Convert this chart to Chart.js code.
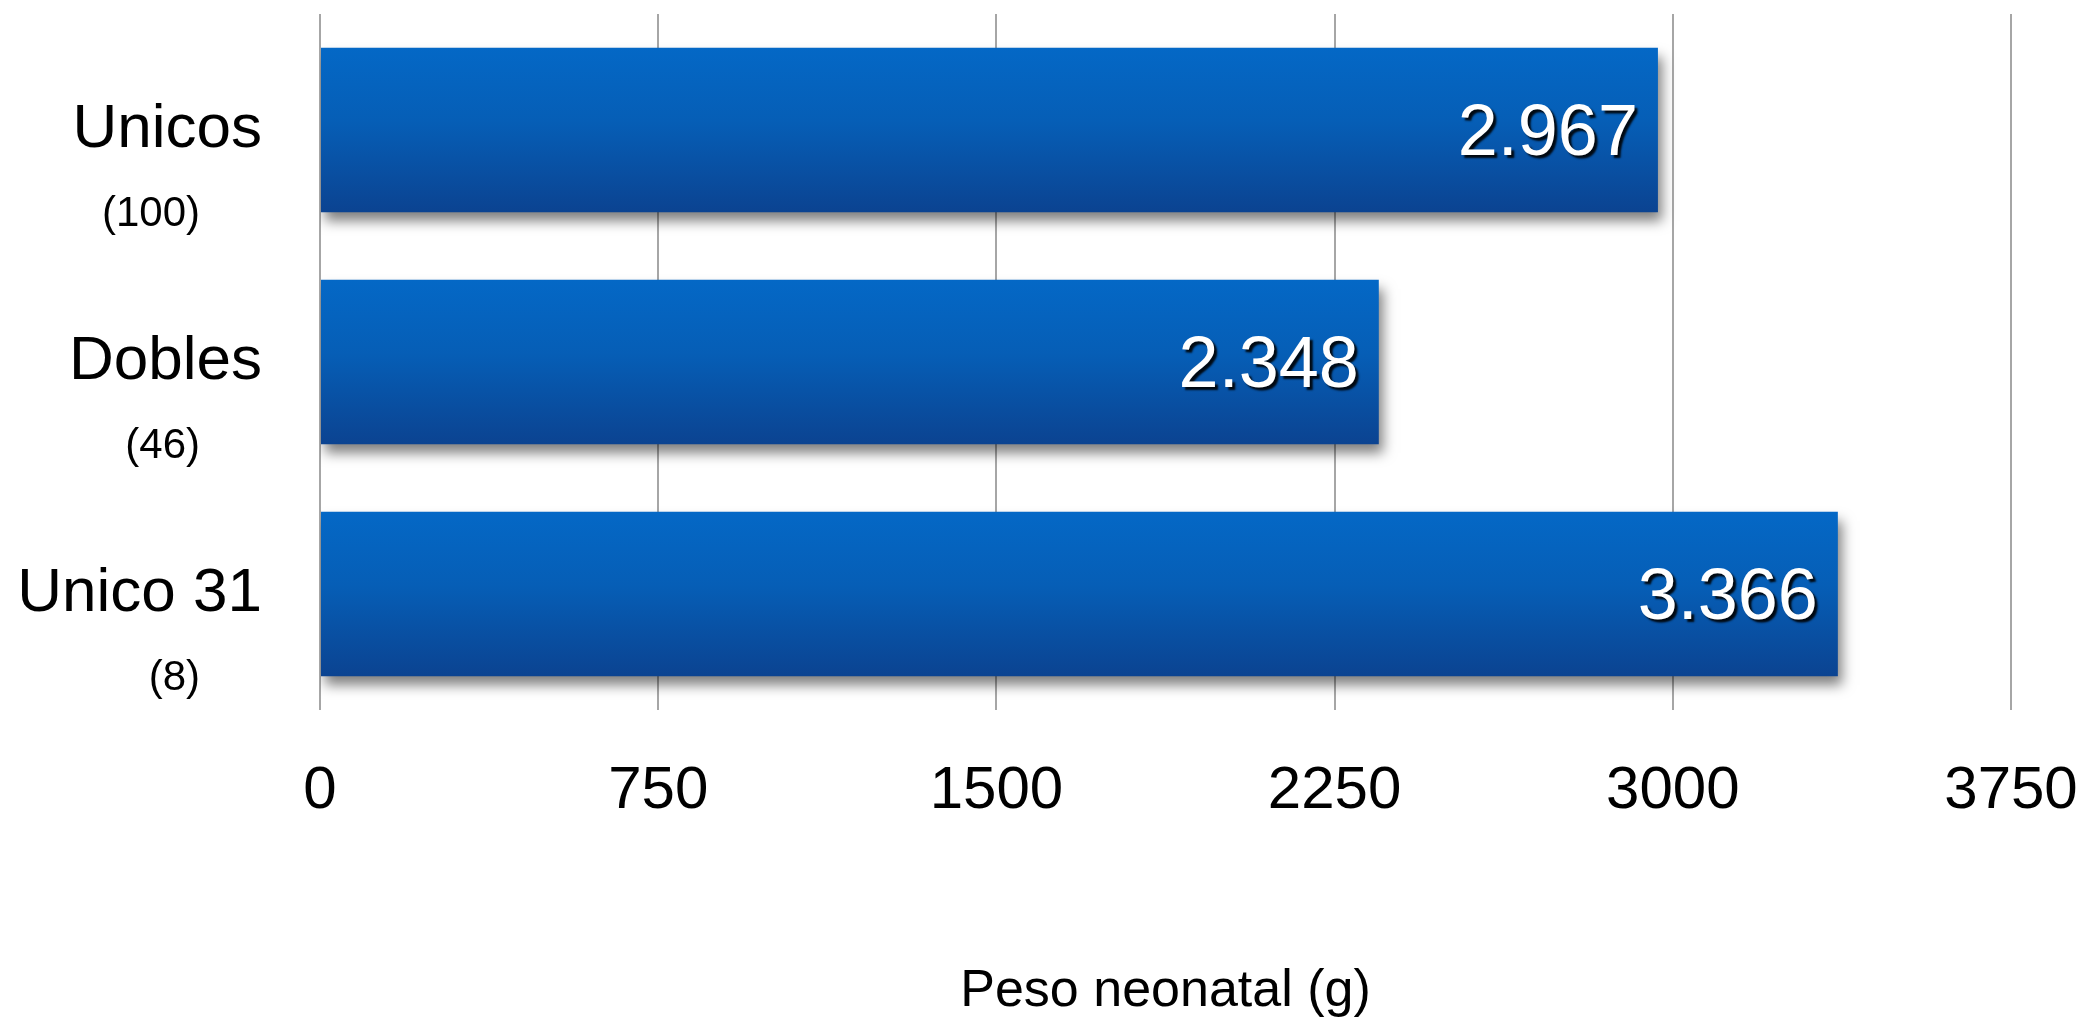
<!DOCTYPE html>
<html>
<head>
<meta charset="utf-8">
<script src="https://cdn.jsdelivr.net/npm/chart.js@4.4.1/dist/chart.umd.min.js"></script>
<style>
  html, body { margin: 0; padding: 0; background: #fff; }
  canvas { display: block; }
</style>
</head>
<body>
<canvas id="pesoChart" width="2088" height="1023"></canvas>
<script>
const categorias = ["Unicos", "Dobles", "Unico 31"];
const casos = ["(100)", "(46)", "(8)"];
const pesos = [2967, 2348, 3366];
const ticksX = [0, 750, 1500, 2250, 3000, 3750];

const fuente = "'Liberation Sans', Arial, sans-serif";
const anchoBarra = 0.71;

function formato(v) {
  return String(v).replace(/\B(?=(\d{3})+(?!\d))/g, ".");
}

// gradiente vertical por barra
function colorBarra(c) {
  const chart = c.chart;
  const y = chart.scales.y;
  if (!chart.chartArea || !y) return "#0560b8";
  const centro = y.getPixelForValue(c.dataIndex);
  const mitad = (y.height / categorias.length) * anchoBarra / 2;
  const g = chart.ctx.createLinearGradient(0, centro - mitad, 0, centro + mitad);
  g.addColorStop(0, "#0468c6");
  g.addColorStop(0.45, "#065eb6");
  g.addColorStop(1, "#0b4391");
  return g;
}

const sombraYEtiquetas = {
  id: "sombraYEtiquetas",
  beforeDatasetsDraw(chart) {
    const ctx = chart.ctx;
    ctx.save();
    ctx.shadowColor = "rgba(0,0,0,0.5)";
    ctx.shadowBlur = 12;
    ctx.shadowOffsetX = 4;
    ctx.shadowOffsetY = 9;
  },
  afterDatasetsDraw(chart) {
    const ctx = chart.ctx;
    ctx.restore();
    const meta = chart.getDatasetMeta(0);
    ctx.save();
    ctx.font = "72px " + fuente;
    ctx.textAlign = "right";
    ctx.textBaseline = "middle";
    ctx.fillStyle = "#ffffff";
    ctx.shadowColor = "rgba(0,0,0,0.9)";
    ctx.shadowBlur = 2;
    ctx.shadowOffsetX = 3;
    ctx.shadowOffsetY = 3;
    meta.data.forEach((bar, i) => {
      ctx.fillText(formato(pesos[i]), bar.x - 20, bar.y + 5);
    });
    ctx.restore();

    // numero de casos bajo cada categoria
    const y = chart.scales.y;
    ctx.save();
    ctx.font = "42px " + fuente;
    ctx.fillStyle = "#000";
    ctx.textAlign = "right";
    ctx.textBaseline = "middle";
    casos.forEach((t, i) => {
      ctx.fillText(t, 200, y.getPixelForValue(i) + 84);
    });
    ctx.restore();
  }
};

new Chart(document.getElementById("pesoChart"), {
  type: "bar",
  data: {
    labels: categorias,
    datasets: [{
      data: pesos,
      backgroundColor: colorBarra,
      borderWidth: 0,
      barPercentage: anchoBarra,
      categoryPercentage: 1
    }]
  },
  options: {
    indexAxis: "y",
    responsive: false,
    animation: false,
    devicePixelRatio: 1,
    layout: { padding: { top: 14, right: 77, bottom: 0, left: 0 } },
    plugins: {
      legend: { display: false },
      tooltip: { enabled: false }
    },
    scales: {
      x: {
        min: 0,
        max: 3750,
        afterBuildTicks: (s) => { s.ticks = ticksX.map(v => ({ value: v })); },
        afterFit: (s) => { s.height = 313; s.paddingLeft = 0; s.paddingRight = 0; },
        grid: { color: "#a6a6a6", lineWidth: 2, drawTicks: false },
        border: { display: false },
        ticks: {
          padding: 45,
          color: "#000",
          font: { family: fuente, size: 60 },
          maxRotation: 0,
          callback: (v) => String(v)
        },
        title: {
          display: true,
          text: "Peso neonatal (g)",
          color: "#000",
          font: { family: fuente, size: 52 },
          padding: { top: 0, bottom: 0 }
        }
      },
      y: {
        afterFit: (s) => { s.width = 320; s.paddingTop = 0; s.paddingBottom = 0; },
        grid: { display: false, drawTicks: false },
        border: { display: false },
        ticks: {
          padding: 58,
          color: "#000",
          font: { family: fuente, size: 62 }
        }
      }
    }
  },
  plugins: [sombraYEtiquetas]
});
</script>
</body>
</html>
